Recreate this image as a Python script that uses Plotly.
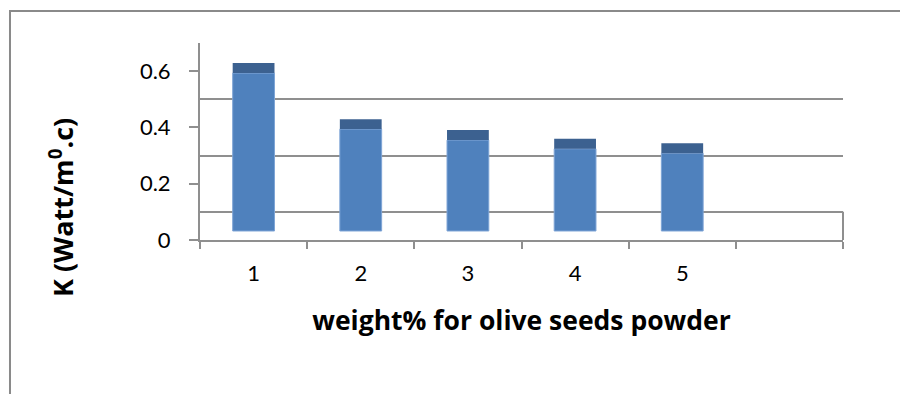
import plotly.graph_objects as go

# ---- data ----
categories = [1, 2, 3, 4, 5]
tick_labels = ["1", "2", "3", "4", "5"]
k_values = [0.561, 0.362, 0.323, 0.292, 0.276]
y_tick_vals = [0, 0.2, 0.4, 0.6]
y_tick_text = ["0", "0.2", "0.4", "0.6"]

# ---- 3D-look styling constants ----
DEPTH = 0.032      # bar base lift (pseudo depth)
CAP = 0.0355       # visible top face of bar
WALL = 0.1         # back-wall offset of gridlines
FACE = "#4F81BD"
TOP = "#3C6190"
GRID = "#8f8f8f"
FONT = "Lato"
TFONT = "Open Sans"

fig = go.Figure()
fig.add_trace(go.Bar(
    x=categories, y=k_values, base=DEPTH, width=0.39,
    marker=dict(color=FACE, line=dict(color="#7ea4d6", width=1)),
    showlegend=False, hoverinfo="y"))
fig.add_trace(go.Bar(
    x=categories, y=[CAP] * len(k_values), base=[v + DEPTH for v in k_values],
    width=0.39, marker=dict(color=TOP, line=dict(width=0)),
    showlegend=False, hoverinfo="skip"))

shapes = [
    # outer chart border (left and top)
    dict(type="path", xref="paper", yref="paper",
         path="M -0.2955,-0.85 L -0.2955,1.1624 L 1.12,1.1624",
         line=dict(color="#8a8a8a", width=2)),
    # right edge of floor
    dict(type="line", xref="paper", yref="y", x0=1, x1=1, y0=0, y1=WALL,
         line=dict(color=GRID, width=2)),
]

fig.update_layout(
    width=900, height=386,
    margin=dict(l=192, r=65, t=35, b=154),
    paper_bgcolor="white", plot_bgcolor="white",
    barmode="overlay",
    font=dict(family=FONT, size=22, color="#000"),
    shapes=shapes,
    annotations=[dict(
        text="<b>K (Watt/m<sup>0</sup>.c)</b>", textangle=-90,
        xref="paper", yref="paper", x=-0.2162, y=0.1675,
        xanchor="center", yanchor="middle", showarrow=False,
        font=dict(family=TFONT, size=27, color="#000"))],
    xaxis=dict(
        range=[0.5, 6.5], tickmode="array", tickvals=categories, ticktext=tick_labels,
        ticks="", showgrid=False, zeroline=False,
        showline=True, linecolor=GRID, linewidth=2,
        ticklabelstandoff=13,
        minor=dict(tickmode="array", tickvals=[0.5, 1.5, 2.5, 3.5, 4.5, 5.5, 6.5],
                   ticks="outside", ticklen=7, tickcolor=GRID, tickwidth=2, showgrid=False),
        title=dict(text="<b>weight% for olive seeds powder</b>",
                   font=dict(family=TFONT, size=26.5), standoff=26),
        fixedrange=True,
    ),
    yaxis=dict(
        range=[0, 0.7], tickmode="array", tickvals=y_tick_vals, ticktext=y_tick_text,
        ticks="outside", ticklen=9, tickcolor=GRID, tickwidth=2,
        showgrid=False, zeroline=False,
        showline=True, linecolor=GRID, linewidth=2,
        ticklabelstandoff=14,
        minor=dict(tickmode="array", tickvals=[0.1, 0.3, 0.5, 0.7],
                   showgrid=True, gridcolor=GRID, gridwidth=2, ticks=""),
        fixedrange=True,
    ),
)

fig.write_html("out.html")
